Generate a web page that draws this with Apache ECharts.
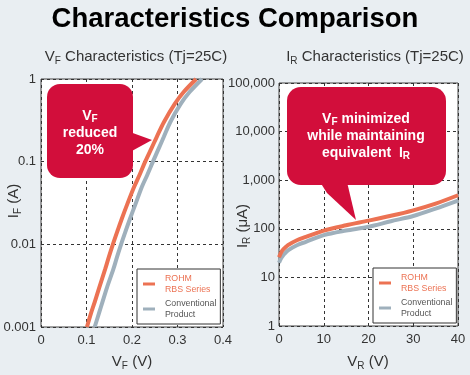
<!DOCTYPE html>
<html>
<head>
<meta charset="utf-8">
<script src="https://cdn.jsdelivr.net/npm/echarts@6/dist/echarts.min.js"></script>
<style>
html,body{margin:0;padding:0;background:#e9eef2;}
#c{width:470px;height:375px;}
</style>
</head>
<body>
<div id="c"></div>
<script>
// ---- Data ----
const seriesNames = ['ROHM RBS Series', 'Conventional Product'];
const legendLabels = ['ROHM\nRBS Series', 'Conventional\nProduct'];

// VF characteristics: forward current levels (A) and forward voltage (V)
const ifLevels = [0.001, 0.0015, 0.002, 0.003, 0.005, 0.007, 0.01, 0.015, 0.02, 0.03,
                  0.05, 0.07, 0.1, 0.15, 0.2, 0.3, 0.5, 0.7, 1];
const vfRohm   = [0.101, 0.1105, 0.118, 0.128, 0.141, 0.149, 0.158, 0.169, 0.177, 0.189,
                  0.205, 0.217, 0.229, 0.244, 0.2545, 0.270, 0.294, 0.314, 0.341];
const vfConv   = [0.118, 0.128, 0.135, 0.145, 0.159, 0.167, 0.176, 0.187, 0.195, 0.207,
                  0.222, 0.234, 0.246, 0.260, 0.270, 0.284, 0.307, 0.327, 0.354];

// IR characteristics: reverse voltage (V) and reverse current (uA)
const vrLevels = [0, 0.5, 1, 2, 4, 6, 10, 15, 20, 25, 30, 35, 40];
const irRohm   = [26, 33, 38, 46, 58, 68, 92, 118, 147, 185, 240, 330, 490];
const irConv   = [20, 25, 29, 36, 46, 54, 74, 92, 110, 143, 183, 260, 380];

// Tick labels
const vfTicks = ['0', '0.1', '0.2', '0.3', '0.4'];
const ifTicks = ['0.001', '0.01', '0.1', '1'];          // decades 10^-3 .. 10^0
const vrTicks = ['0', '10', '20', '30', '40'];
const irTicks = ['1', '10', '100', '1,000', '10,000', '100,000']; // 10^0 .. 10^5

// ---- Styles ----
const FONT = 'Liberation Sans, Arial, sans-serif';
const C_ROHM = '#ec7253';
const C_CONV = '#9fb0bc';
const C_RED = '#d20e3b';
const C_TXT = '#333';

const chart = echarts.init(document.getElementById('c'), null, {renderer: 'canvas'});

function pairs(xs, ys) { return xs.map((x, i) => [x, ys[i]]); }
function pairsYX(ys, xs) { return ys.map((y, i) => [xs[i], y]); }

const subRich = {
  n: {fontSize: 15, color: C_TXT, fontFamily: FONT, lineHeight: 18},
  s: {fontSize: 10, color: C_TXT, fontFamily: FONT, lineHeight: 18, verticalAlign: 'bottom', padding: [3, 0, 0, 0]}
};
const calloutRich = {
  b: {fontSize: 14, fontWeight: 'bold', color: '#fff', fontFamily: FONT, lineHeight: 17},
  s: {fontSize: 10, fontWeight: 'bold', color: '#fff', fontFamily: FONT, lineHeight: 17, verticalAlign: 'bottom', padding: [3, 0, 0, 0]}
};

function txt(x, y, text, rot) {
  return {
    type: 'text', x: x, y: y, rotation: rot || 0, z: 50,
    style: {text: text, rich: subRich, align: 'center', verticalAlign: 'middle', font: '15px ' + FONT, fill: C_TXT}
  };
}

const axisLabelStyle = {color: C_TXT, fontSize: 13, fontFamily: FONT};
const splitStyle = {show: true, lineStyle: {color: '#333', type: [3, 3], width: 1}};

function legendCfg(left, top) {
  return {
    left: left, top: top, orient: 'vertical',
    backgroundColor: '#fff', borderColor: '#333', borderWidth: 1, borderRadius: 0,
    padding: [4, 4, 4, 6], itemGap: 3,
    icon: 'rect', itemWidth: 12, itemHeight: 3,
    selectedMode: false,
    data: [
      {name: seriesNames[0], textStyle: {color: C_ROHM}},
      {name: seriesNames[1], textStyle: {color: '#555'}}
    ],
    formatter: function (name) { return legendLabels[seriesNames.indexOf(name)]; },
    textStyle: {fontSize: 8.8, lineHeight: 11, fontFamily: FONT, padding: [0, 0, 0, 5]}
  };
}

const lineSeries = (name, xi, data, color, z) => ({
  name: name, type: 'line', xAxisIndex: xi, yAxisIndex: xi, data: data,
  showSymbol: false, smooth: 0.3, lineStyle: {color: color, width: 4}, itemStyle: {color: color}, z: z
});

const option = {
  backgroundColor: '#e9eef2',
  animation: false,
  title: {
    text: 'Characteristics Comparison', left: 'center', top: 0,
    textStyle: {fontSize: 27.5, fontWeight: 'bold', color: '#000', fontFamily: FONT}
  },
  grid: [
    {left: 41, top: 79, width: 182, height: 248, show: true, backgroundColor: '#fff', borderColor: '#444', borderWidth: 1},
    {left: 279, top: 83, width: 179, height: 243, show: true, backgroundColor: '#fff', borderColor: '#444', borderWidth: 1}
  ],
  xAxis: [
    {
      gridIndex: 0, type: 'value', min: 0, max: 0.4, interval: 0.1,
      axisLine: {show: false}, axisTick: {show: false}, splitLine: splitStyle,
      axisLabel: Object.assign({margin: 7, formatter: (v) => vfTicks[Math.round(v * 10)]}, axisLabelStyle)
    },
    {
      gridIndex: 1, type: 'value', min: 0, max: 40, interval: 10,
      axisLine: {show: false}, axisTick: {show: false}, splitLine: splitStyle,
      axisLabel: Object.assign({margin: 7, formatter: (v) => vrTicks[Math.round(v / 10)]}, axisLabelStyle)
    }
  ],
  yAxis: [
    {
      gridIndex: 0, type: 'log', logBase: 10, min: 0.001, max: 1,
      axisLine: {show: false}, axisTick: {show: false}, splitLine: splitStyle, minorSplitLine: {show: false},
      axisLabel: Object.assign({margin: 5, formatter: (v) => ifTicks[Math.round(Math.log10(v)) + 3]}, axisLabelStyle)
    },
    {
      gridIndex: 1, type: 'log', logBase: 10, min: 1, max: 100000,
      axisLine: {show: false}, axisTick: {show: false}, splitLine: splitStyle, minorSplitLine: {show: false},
      axisLabel: Object.assign({margin: 4, formatter: (v) => irTicks[Math.round(Math.log10(v))]}, axisLabelStyle)
    }
  ],
  legend: [legendCfg(137, 269), legendCfg(373, 268)],
  series: [
    lineSeries(seriesNames[1], 0, pairsYX(ifLevels, vfConv), C_CONV, 2),
    lineSeries(seriesNames[0], 0, pairsYX(ifLevels, vfRohm), C_ROHM, 3),
    lineSeries(seriesNames[1], 1, pairs(vrLevels, irConv), C_CONV, 2),
    lineSeries(seriesNames[0], 1, pairs(vrLevels, irRohm), C_ROHM, 3)
  ],
  graphic: [
    txt(136, 57, '{n|V}{s|F}{n| Characteristics (Tj=25C)}'),
    txt(375, 57, '{n|I}{s|R}{n| Characteristics (Tj=25C)}'),
    txt(132, 362, '{n|V}{s|F}{n| (V)}'),
    txt(368, 362, '{n|V}{s|R}{n| (V)}'),
    txt(14, 201, '{n|I}{s|F}{n| (A)}', Math.PI / 2),
    txt(243, 226, '{n|I}{s|R}{n| (μA)}', Math.PI / 2),
    // Left callout
    {type: 'rect', z: 60, shape: {x: 47, y: 84, width: 86, height: 94, r: 13}, style: {fill: C_RED}},
    {type: 'polygon', z: 60, shape: {points: [[130, 132], [152, 140], [130, 152]]}, style: {fill: C_RED}},
    {type: 'text', z: 61, x: 90, y: 133,
     style: {text: '{b|V}{s|F}\n{b|reduced}\n{b|20%}', rich: calloutRich, align: 'center', verticalAlign: 'middle', fill: '#fff'}},
    // Right callout
    {type: 'rect', z: 60, shape: {x: 287, y: 87, width: 159, height: 98, r: 14}, style: {fill: C_RED}},
    {type: 'polygon', z: 60, shape: {points: [[320, 182], [327, 193], [356, 220], [347, 182]]}, style: {fill: C_RED}},
    {type: 'text', z: 61, x: 366, y: 136,
     style: {text: '{b|V}{s|F}{b| minimized}\n{b|while maintaining}\n{b|equivalent  I}{s|R}', rich: calloutRich, align: 'center', verticalAlign: 'middle', fill: '#fff'}}
  ]
};

chart.setOption(option);
</script>
</body>
</html>
